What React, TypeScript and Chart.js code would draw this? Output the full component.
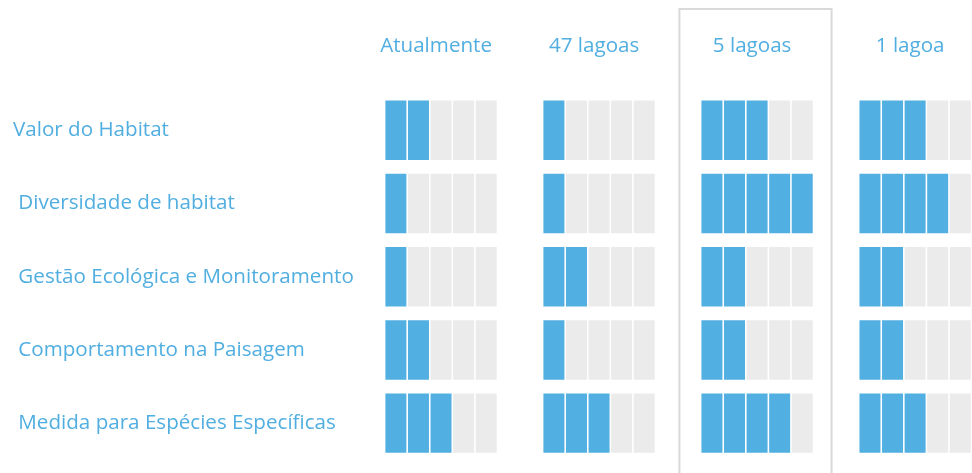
import React, { useEffect, useRef } from 'react';
import { Chart, registerables } from 'chart.js';

Chart.register(...registerables);

// ---- data ----
const scenarios = ['Atualmente', '47 lagoas', '5 lagoas', '1 lagoa'];
const criteria = [
  'Valor do Habitat',
  ' Diversidade de habitat',
  ' Gestão Ecológica e Monitoramento',
  ' Comportamento na Paisagem',
  ' Medida para Espécies Específicas',
];
const maxScore = 5;
const atualmente = [2, 1, 1, 2, 3];
const lagoas47 = [1, 1, 2, 1, 3];
const lagoas5 = [3, 5, 2, 2, 4];
const lagoa1 = [3, 4, 2, 2, 3];
const highlighted = '5 lagoas';

const scores = [atualmente, lagoas47, lagoas5, lagoa1];

// ---- layout / style ----
const COLUMN_STEP = 7;
const BAR_HALF = 0.405;
const X_MIN = -1.147;
const X_MAX = 25.52;
const BLUE = '#52afe2';
const GRAY = '#ebebeb';
const TEXT = '#50aee0';
const FONT_SIZE = 20.6;
const FONT = `${FONT_SIZE}px 'Open Sans', sans-serif`;

function buildData() {
  const filled: any[] = [];
  const empty: any[] = [];
  scores.forEach((col, c) => {
    col.forEach((score, r) => {
      for (let k = 0; k < maxScore; k++) {
        const pt = { x: c * COLUMN_STEP + k, y: [r - BAR_HALF, r + BAR_HALF] };
        if (k < score) filled.push(pt);
        else empty.push(pt);
      }
    });
  });
  return { filled, empty };
}

// draws the scenario headers, criterion labels and the highlight frame
const labelsPlugin = {
  id: 'labels',
  afterDraw(chart: any) {
    const xs = chart.scales.x;
    const ys = chart.scales.y;
    const ctx = chart.ctx;
    ctx.save();
    ctx.font = FONT;
    ctx.fillStyle = TEXT;
    ctx.textBaseline = 'middle';
    ctx.textAlign = 'center';
    scenarios.forEach((s, c) => {
      ctx.fillText(s, xs.getPixelForValue(c * COLUMN_STEP + 2 - 0.22), 46);
    });
    ctx.textAlign = 'left';
    criteria.forEach((s, r) => {
      ctx.fillText(s, 13, ys.getPixelForValue(r));
    });
    const c = scenarios.indexOf(highlighted);
    if (c >= 0) {
      const left = xs.getPixelForValue(c * COLUMN_STEP - 1.44);
      const right = xs.getPixelForValue(c * COLUMN_STEP + 5.3);
      ctx.strokeStyle = '#d9d9d9';
      ctx.lineWidth = 2;
      ctx.strokeRect(left, 9, right - left, chart.height + 20);
    }
    ctx.restore();
  },
};

export default function App() {
  const ref = useRef<HTMLCanvasElement>(null);
  useEffect(() => {
    if (!ref.current) return;
    const { filled, empty } = buildData();
    const chart = new Chart(ref.current, {
      type: 'bar',
      data: {
        datasets: [
          {
            data: filled as any,
            backgroundColor: BLUE,
            borderWidth: 0,
            grouped: false,
            barPercentage: 0.93,
            categoryPercentage: 1,
          } as any,
          {
            data: empty as any,
            backgroundColor: GRAY,
            borderWidth: 0,
            grouped: false,
            barPercentage: 0.93,
            categoryPercentage: 1,
          } as any,
        ],
      },
      options: {
        animation: false,
        responsive: false,
        events: [],
        layout: { autoPadding: false, padding: { left: 370, right: 0, top: 79, bottom: 0 } },
        plugins: { legend: { display: false }, tooltip: { enabled: false }, title: { display: false } },
        scales: {
          x: { type: 'linear', min: X_MIN, max: X_MAX, display: false, offset: false },
          y: { type: 'linear', reverse: true, min: -0.7, max: 4.68, display: false },
        } as any,
      },
      plugins: [labelsPlugin],
    });
    return () => chart.destroy();
  }, []);
  return (
    <canvas
      ref={ref}
      width={972}
      height={473}
      style={{ position: 'fixed', left: 0, top: 0, width: 972, height: 473, display: 'block', background: '#fff' }}
    />
  );
}
